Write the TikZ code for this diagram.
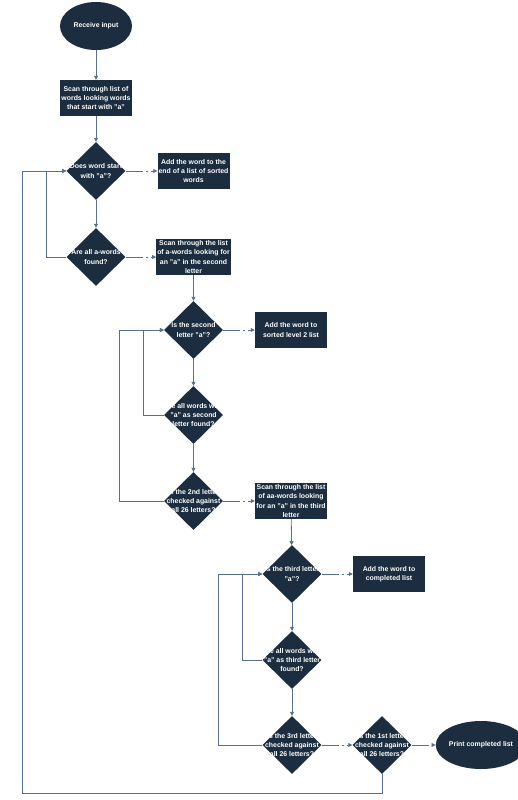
\documentclass[tikz,border=0pt]{standalone}
\usepackage{fontspec}
\setmainfont{Liberation Sans}
\usetikzlibrary{shapes.geometric,arrows.meta}

\definecolor{navy}{HTML}{1B2D3F}
\definecolor{wire}{HTML}{56708D}

\tikzset{
  every node/.style={font=\fontsize{6.9}{9.3}\selectfont\bfseries, text=white, align=center},
  terminal/.style={ellipse, fill=navy, minimum width=72pt, minimum height=48pt, inner sep=0pt},
  stepbox/.style={rectangle, fill=navy, minimum width=72pt, minimum height=36pt, inner sep=1pt},
  decision/.style={diamond, fill=navy, minimum width=59pt, minimum height=58pt, inner sep=0pt},
  flow/.style={draw=wire, line width=0.8pt, -{Triangle[length=4pt,width=4pt]}},
  gapflow/.style={flow, dash pattern=on 17pt off 3pt on 2pt off 3pt on 30pt}
}

\begin{document}
\begin{tikzpicture}[x=1pt, y=-1pt]
			\useasboundingbox (0,0) rectangle (518,800);

			% Start and first scan
			\node[terminal] (start) at (96,26) {Receive input};
			\node[stepbox] (scan1) at (96,98) {Scan through list of\\words looking words\\that start with "a"};

			% First letter
			\node[decision] (d1) at (96,171) {};
			\node at (d1) {Does word start\\with "a"?};
			\node[stepbox] (add1) at (193.5,171) {Add the word to the\\end of a list of sorted\\words};
			\node[decision] (d2) at (96,257) {};
			\node at (d2) {Are all a-words\\found?};
			\node[stepbox] (scan2) at (193.5,257) {Scan through the list\\of a-words looking for\\an "a" in the second\\letter};

			% Second letter
			\node[decision] (d3) at (193.5,330) {};
			\node at (d3) {Is the second\\letter "a"?};
			\node[stepbox] (add2) at (291,330) {Add the word to\\sorted level 2 list};
			\node[decision] (d4) at (193.5,415) {};
			\node at (d4) {Are all words with\\"a" as second\\letter found?};
			\node[decision] (d5) at (193.5,501) {};
			\node at (d5) {Is the 2nd letter\\checked against\\all 26 letters?};
			\node[stepbox] (scan3) at (291,501) {Scan through the list\\of aa-words looking\\for an "a" in the third\\letter};

			% Third letter
			\node[decision] (d6) at (292,574) {};
			\node at (d6) {Is the third letter\\"a"?};
			\node[stepbox] (add3) at (389,574) {Add the word to\\completed list};
			\node[decision] (d7) at (292,660) {};
			\node at (d7) {Are all words with\\"a" as third letter\\found?};
			\node[decision] (d8) at (292,745) {};
			\node at (d8) {Is the 3rd letter\\checked against\\all 26 letters?};
			\node[decision] (d9) at (382,745) {};
			\node at (d9) {Is the 1st letter\\checked against\\all 26 letters?};
			\node[terminal] (stop) at (481,745) {Print completed list};

			% Main flow
			\draw[flow] (start) -- (scan1);
			\draw[flow] (scan1) -- (d1);
			\draw[flow] (d1) -- (d2);
			\draw[gapflow] (d1.east) -- (add1);
			\draw[gapflow] (d2.east) -- (scan2);
			\draw[flow] (scan2) -- (d3);
			\draw[gapflow] (d3.east) -- (add2);
			\draw[flow] (d3) -- (d4);
			\draw[flow] (d4) -- (d5);
			\draw[gapflow] (d5.east) -- (scan3);
			\draw[flow] (scan3) -- (d6);
			\draw[gapflow] (d6.east) -- (add3);
			\draw[flow] (d6) -- (d7);
			\draw[flow] (d7) -- (d8);
			\draw[gapflow] (d8.east) -- (d9.west);
			\draw[gapflow] (d9.east) -- (stop);

			% Loops back
			\draw[flow] (d2.west) -- ++(-20,0) |- (d1.west);
			\draw[flow] (d4.west) -- ++(-20,0) |- (d3.west);
			\draw[flow] (d5.west) -- ++(-44,0) |- (d3.west);
			\draw[flow] (d7.west) -- ++(-20,0) |- (d6.west);
			\draw[flow] (d8.west) -- ++(-44,0) |- (d6.west);
			\coordinate (back) at (22,793);
			\draw[flow] (d9.south) |- (back) |- (d1.west);
		\end{tikzpicture}
\end{document}
